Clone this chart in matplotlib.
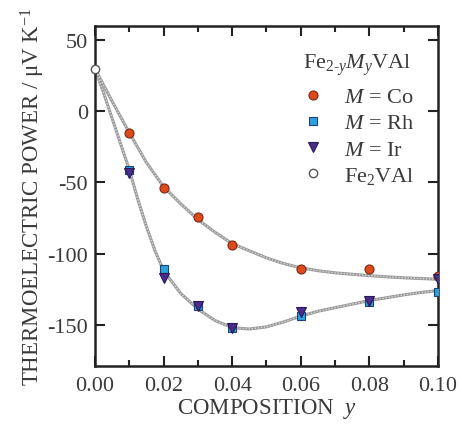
import matplotlib
matplotlib.use("Agg")
import matplotlib.pyplot as plt
from matplotlib.ticker import MultipleLocator

plt.rcParams['font.family'] = ['Liberation Serif', 'DejaVu Serif']
plt.rcParams['mathtext.fontset'] = 'custom'
plt.rcParams['mathtext.rm'] = 'Liberation Serif'
plt.rcParams['mathtext.it'] = 'Liberation Serif:italic'
plt.rcParams['mathtext.bf'] = 'Liberation Serif:bold'
plt.rcParams['axes.unicode_minus'] = False

# Data
x_pts = [0.01, 0.02, 0.03, 0.04, 0.06, 0.08, 0.10]
co = [-15, -54, -74, -94, -111, -111, -116]
rh = [-41, -111, -137, -152, -144, -134, -127]
ir = [-43, -117, -137, -152, -141, -133, -118]
fe2val_x = [0.0]
fe2val_y = [30]

# Guide curves
curve_x_up = [0.0, 0.005, 0.01, 0.015, 0.02, 0.025, 0.03, 0.035, 0.04, 0.045, 0.05,
              0.055, 0.06, 0.065, 0.07, 0.075, 0.08, 0.085, 0.09, 0.095, 0.10]
curve_y_up = [30, 7, -15, -36, -53, -65, -76, -85, -93, -98, -103,
              -107, -110, -112, -113.5, -114.5, -115.5, -116.3, -117, -117.5, -118]
curve_x_lo = [0.0, 0.0025, 0.005, 0.0075, 0.01, 0.0125, 0.015, 0.0175, 0.02, 0.025, 0.03,
              0.035, 0.04, 0.045, 0.05, 0.055, 0.06, 0.065, 0.07, 0.075, 0.08,
              0.085, 0.09, 0.095, 0.10]
curve_y_lo = [30, 13, -5, -23, -41, -62, -81, -98, -112, -128, -139,
              -147, -152, -153, -151.5, -148, -144, -140.5, -138, -135.5, -133,
              -131, -129, -127.3, -126]

xticks = [0.00, 0.02, 0.04, 0.06, 0.08, 0.10]
xticklabels = ['0.00', '0.02', '0.04', '0.06', '0.08', '0.10']
yticks = [-150, -100, -50, 0, 50]

TXT = '#3a3a3a'

fig = plt.figure(figsize=(4.62, 4.27), dpi=100)
ax = fig.add_axes([0.2056, 0.1405, 0.7424, 0.7963])

line_kw = dict(color='#9a9a9a', lw=2.2, solid_capstyle='round', zorder=1)
ax.plot(curve_x_up, curve_y_up, **line_kw)
ax.plot(curve_x_lo, curve_y_lo, **line_kw)
dot_kw = dict(color='#d8d8d8', lw=1.0, ls=(0, (1, 1.2)), zorder=1.5)
ax.plot(curve_x_up, curve_y_up, **dot_kw)
ax.plot(curve_x_lo, curve_y_lo, **dot_kw)

ms = 6.5
ax.plot(x_pts, co, 'o', ms=ms, mfc='#dd4a1c', mec='#7a2a10', mew=0.8, ls='none',
        label=r'$M$ = Co', zorder=3)
ax.plot(x_pts, rh, 's', ms=ms - 0.5, mfc='#2aa3dc', mec='#1f3f7a', mew=0.8, ls='none',
        label=r'$M$ = Rh', zorder=3)
ax.plot(x_pts, ir, 'v', ms=ms, mfc='#4a2d8c', mec='#2a1a55', mew=0.8, ls='none',
        label=r'$M$ = Ir', zorder=4)
ax.plot(fe2val_x, fe2val_y, 'o', ms=6, mfc='white', mec='#555555', mew=1.0, ls='none',
        label=r'Fe$_2$VAl', zorder=5, clip_on=False)

ax.set_xlim(0, 0.10)
ax.set_ylim(-179, 60)
ax.set_xticks(xticks)
ax.set_xticklabels(xticklabels)
ax.xaxis.set_minor_locator(MultipleLocator(0.01))
ax.set_yticks(yticks)

ax.tick_params(which='both', direction='in', top=True, right=True, width=1.5,
               labelsize=16, colors='#222222', labelcolor=TXT)
ax.tick_params(which='major', length=7)
ax.tick_params(axis='x', which='major', pad=7)
ax.tick_params(axis='y', which='major', pad=5)
ax.tick_params(which='minor', length=4)
for s in ax.spines.values():
    s.set_linewidth(1.8)
    s.set_color('#222222')

ax.set_xlabel(r'COMPOSITION  $y$', fontsize=16.5, color=TXT, labelpad=1)
ax.set_ylabel(r'THERMOELECTRIC POWER / μV K$^{-1}$', fontsize=16.5, color=TXT,
              labelpad=0)

leg = ax.legend(loc='center left', bbox_to_anchor=(0.609, 0.675), frameon=False,
                fontsize=16, handlelength=0.8, handletextpad=1.0, labelspacing=0.25,
                borderpad=0, borderaxespad=0)
for t in leg.get_texts():
    t.set_color(TXT)
ax.text(0.606, 0.888, r'Fe$_{2\text{-}y}$$M_y$VAl', transform=ax.transAxes,
        fontsize=16, color=TXT, ha='left', va='center')

fig.savefig('out.png', dpi=100)
